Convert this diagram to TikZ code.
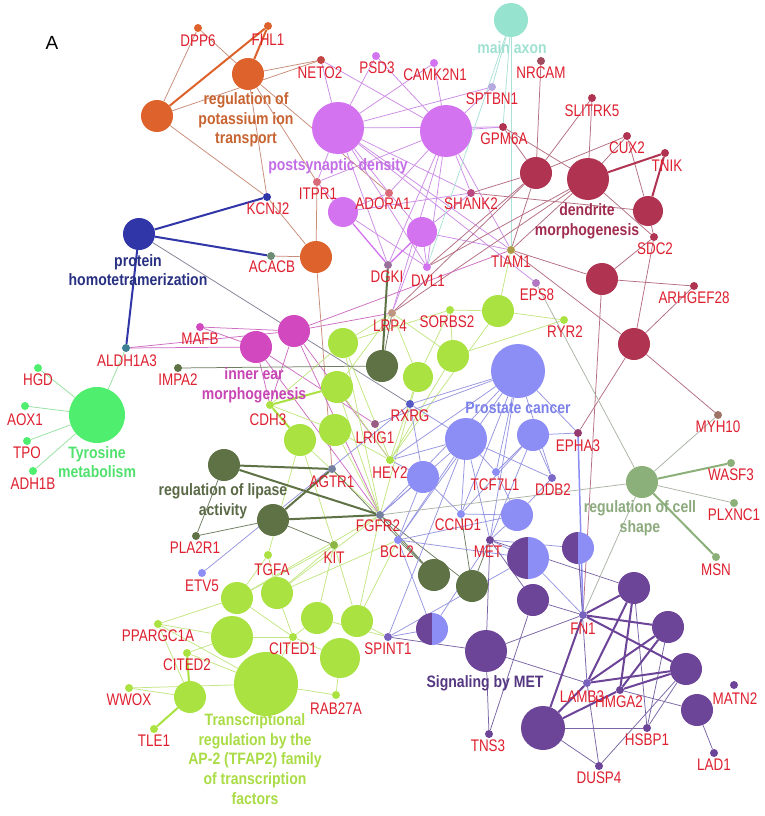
\documentclass[tikz,border=0pt]{standalone}
\usepackage{fontspec}
\setmainfont{Liberation Sans}
\newfontfamily\gf[FakeStretch=0.8]{Liberation Sans}
\newfontfamily\cf[FakeStretch=0.85]{Liberation Sans}
\pgfdeclarelayer{back}\pgfdeclarelayer{bg}\pgfsetlayers{back,bg,main}
\definecolor{cOr}{RGB}{222,98,44}
\definecolor{cPsd}{RGB}{212,115,240}
\definecolor{cAx}{RGB}{150,228,208}
\definecolor{cDen}{RGB}{176,52,82}
\definecolor{cBl}{RGB}{48,54,168}
\definecolor{cTy}{RGB}{80,238,110}
\definecolor{cEar}{RGB}{210,72,190}
\definecolor{cLi}{RGB}{170,226,66}
\definecolor{cOl}{RGB}{94,114,70}
\definecolor{cPr}{RGB}{140,142,246}
\definecolor{cMet}{RGB}{108,68,152}
\definecolor{cSh}{RGB}{140,176,122}
\definecolor{cGene}{RGB}{222,32,48}
\definecolor{lOr}{RGB}{200,100,50}
\definecolor{lPsd}{RGB}{195,110,230}
\definecolor{lAx}{RGB}{160,225,210}
\definecolor{lDen}{RGB}{160,45,80}
\definecolor{lBl}{RGB}{40,48,130}
\definecolor{lTy}{RGB}{80,225,110}
\definecolor{lEar}{RGB}{200,70,180}
\definecolor{lOl}{RGB}{90,105,70}
\definecolor{lPr}{RGB}{125,130,235}
\definecolor{lSh}{RGB}{140,170,125}
\definecolor{lMet}{RGB}{85,55,130}
\definecolor{lLi}{RGB}{170,220,70}
\definecolor{eOr}{RGB}{200,140,120}
\definecolor{ePsd}{RGB}{205,140,230}
\definecolor{eAx}{RGB}{170,225,215}
\definecolor{eDen}{RGB}{180,110,130}
\definecolor{eBl}{RGB}{130,130,150}
\definecolor{eTy}{RGB}{150,225,160}
\definecolor{eEar}{RGB}{205,110,195}
\definecolor{eLi}{RGB}{195,230,130}
\definecolor{eOl}{RGB}{110,125,95}
\definecolor{ePr}{RGB}{150,150,225}
\definecolor{eMet}{RGB}{120,100,165}
\definecolor{eSh}{RGB}{170,180,165}
\tikzset{
 bigc/.style={circle,inner sep=0pt,minimum size=#1pt},
 gdot/.style={circle,inner sep=0pt,minimum size=8pt},
 glab/.style={inner sep=0pt,text=cGene,font={\gf\fontsize{16.8}{18}\selectfont}},
 clab/.style={inner sep=0pt,align=center,font={\cf\bfseries\fontsize{16.5}{19.7}\selectfont}},
 ed/.style={line width=0.75pt},
 thk/.style={line width=2pt},
}
\begin{document}
\begin{tikzpicture}[x=1pt,y=-1pt]
\begin{pgfonlayer}{back}\fill[white] (0,0) rectangle (765,816);\end{pgfonlayer}
\useasboundingbox (0,0) rectangle (765,816);
% big term nodes
\foreach \n/\x/\y/\d/\c in {
 O1/157/116/32/cOr, O2/248/74/32/cOr, O3/316/257/32/cOr,
 P1/338/128/52/cPsd, P2/446/131/52/cPsd, P3/343/212/30/cPsd, P4/422/232/30/cPsd,
 AX/511/20/34/cAx,
 D1/536/173/32/cDen, D2/588/179/42/cDen, D3/648/211/30/cDen, D4/602/279/32/cDen, D5/634/344/32/cDen,
 B1/139/234/32/cBl, T1/97/415/56/cTy,
 M1/256/347/32/cEar, M2/294/331/32/cEar,
 L1/343/343/30/cLi, L2/337/387/32/cLi, L3/300/440/32/cLi, L4/335/430/32/cLi, L5/453/356/32/cLi,
 L6/418/377/30/cLi, L7/498/311/32/cLi, L8/237/598/32/cLi, L9/277/593/32/cLi, L10/232/637/42/cLi,
 L11/317/618/32/cLi, L12/357/621/32/cLi, L13/340/658/40/cLi, L14/266/684/64/cLi, L15/190/697/32/cLi,
 G1/224/465/32/cOl, G2/273/520/32/cOl, G3/382/366/32/cOl, G4/434/575/32/cOl, G5/472/586/32/cOl,
 C1/518/371/54/cPr, C2/466/439/42/cPr, C3/533/435/32/cPr, C4/423/477/32/cPr, C5/517/515/32/cPr,
 S1/486/651/42/cMet, S2/634/588/32/cMet, S3/668/627/32/cMet, S4/686/669/32/cMet, S5/697/710/32/cMet,
 S6/543/728/44/cMet, S7/533/600/32/cMet,
 R1/642/482/32/cSh}
 \node[bigc=\d,fill=\c] (\n) at (\x,\y) {};
% split nodes
\foreach \n/\x/\y/\r in {C6/528/558/21, C7/578/548/16, C8/432/629/16}{
 \node[bigc=2*\r] (\n) at (\x,\y) {};
 \begin{scope}
  \clip ([xshift=-30pt,yshift=30pt]\n.center) rectangle ([yshift=-30pt]\n.center);
  \fill[cMet] (\n.center) circle[radius=\r pt];
 \end{scope}
 \begin{scope}
  \clip ([yshift=30pt]\n.center) rectangle ([xshift=30pt,yshift=-30pt]\n.center);
  \fill[cPr] (\n.center) circle[radius=\r pt];
 \end{scope}
}
% gene dots
\foreach \n/\x/\y/\c in {
 dpp6/198/28/cOr, fhl1/268/26/cOr, neto2/321/60/cDen!60!cOr, psd3/376/56/cPsd, camk/434/63/cPsd,
 sptbn1/492/87/cAx!50!cPsd, gpm6a/503/127/cDen, itpr1/317/182/cOr!60!cPsd, adora1/389/193/cOr!60!cPsd,
 shank2/471/193/cDen!70!cPsd, kcnj2/267/197/cBl, acacb/271/256/cBl!50!cLi, dgki/388/265/cOl!50!cPsd,
 dvl1/427/267/cPsd, nrcam/541/61/cDen!70!gray, slitrk5/592/98/cDen, cux2/627/136/cDen, tnik/665/153/cDen,
 sdc2/654/237/cDen, arhgef28/694/286/cDen, tiam1/511/250/cLi!60!cDen, eps8/536/283/cPsd!60!gray,
 ryr2/564/320/cLi, sorbs2/450/310/cLi, lrp4/392/313/cEar!50!cLi, mafb/200/327/cEar, aldh1a3/126/348/cBl!60!cTy,
 impa2/178/368/cOl, hgd/38/368/cTy, aox1/25/406/cTy, tpo/27/441/cTy, adh1b/33/471/cTy, cdh3/270/405/cLi,
 lrig1/375/424/cOl!50!cEar, rxrg/410/404/cBl!60!cPr, hey2/390/460/cLi, agtr1/332/469/cOl!50!cPr,
 tcf7l1/496/472/cPr, ddb2/552/478/cMet!50!cPr, epha3/578/433/cMet!40!cDen, myh10/718/415/cDen!50!cSh,
 wasf3/731/463/cSh, plxnc1/734/503/cSh, msn/716/557/cSh, fgfr2/380/515/cOl!50!cPr, ccnd1/461/514/cPr,
 kit/334/545/cOl!40!cLi, bcl2/398/540/cPr, met/490/540/cMet, pla2r1/196/536/cOl, tgfa/268/555/cLi,
 etv5/202/573/cPr, fn1/583/615/cMet!60!cPr, spint1/388/637/cMet!60!cPr, cited1/293/637/cLi,
 ppargc1a/158/624/cLi, cited2/187/653/cLi, wwox/129/688/cLi, tle1/154/729/cLi, rab27a/336/695/cLi,
 lamb3/587/683/cMet!60!cPr, hmga2/620/690/cMet, matn2/734/685/cMet, tns3/489/734/cMet,
 hsbp1/647/728/cMet, lad1/714/753/cMet, dusp4/599/766/cMet}
 \node[gdot,fill=\c] (\n) at (\x,\y) {};
% edges
\begin{pgfonlayer}{bg}
\foreach \a/\b in {O1/dpp6, O2/dpp6, O1/neto2, O2/neto2, O1/kcnj2, O2/kcnj2, O2/itpr1, O2/adora1,
 O3/itpr1, O3/kcnj2, O3/agtr1, O3/acacb}
 \draw[ed,eOr] (\a) -- (\b);
\draw[ed,eBl] (B1) -- (rxrg);
\foreach \a/\b in {P1/neto2, P1/psd3, P1/camk, P1/sptbn1, P1/itpr1, P1/adora1, P1/shank2, P1/dgki, P1/dvl1,
 P1/gpm6a, P1/tiam1, P2/neto2, P2/psd3, P2/camk, P2/sptbn1, P2/gpm6a, P2/adora1, P2/shank2, P2/dgki,
 P2/dvl1, P2/itpr1, P2/tiam1, P2/lrp4, P3/itpr1, P3/adora1, P3/dvl1, P3/shank2, P4/adora1, P4/shank2,
 P4/dvl1, P4/lrp4, P4/tiam1, P1/eps8}
 \draw[ed,ePsd] (\a) -- (\b);
\foreach \a/\b in {AX/sptbn1, AX/gpm6a, AX/tiam1, AX/dvl1}
 \draw[ed,eAx] (\a) -- (\b);
\foreach \a/\b in {D1/nrcam, D1/slitrk5, D1/cux2, D1/gpm6a, D1/shank2, D1/tiam1, D1/dvl1, D1/lrp4,
 D2/slitrk5, D2/cux2, D2/tiam1, D2/sdc2, D2/gpm6a, D2/lrp4, D2/dvl1, D3/cux2, D3/sdc2, D3/shank2,
 D4/sdc2, D4/arhgef28, D4/tiam1, D4/fn1, D5/sdc2, D5/arhgef28, D5/tiam1, D5/myh10, D5/epha3}
 \draw[ed,eDen] (\a) -- (\b);
\foreach \a/\b in {T1/hgd, T1/aox1, T1/tpo, T1/adh1b, T1/aldh1a3}
 \draw[ed,eTy] (\a) -- (\b);
\foreach \a/\b in {M1/mafb, M2/mafb, M1/aldh1a3, M2/aldh1a3, M2/tiam1, M2/lrp4, M1/cdh3, M2/cdh3,
 M1/fgfr2, M2/hey2, M1/lrig1, M2/fgfr2}
 \draw[ed,eEar] (\a) -- (\b);
\foreach \a/\b in {L1/lrp4, L1/hey2, L1/fgfr2, L1/cdh3, L2/lrp4, L2/hey2, L2/fgfr2, L3/fgfr2,
 L3/kit, L4/cdh3, L4/hey2, L4/fgfr2, L5/sorbs2, L5/ryr2, L5/lrp4, L5/hey2, L6/sorbs2, L6/lrp4, L6/hey2,
 L6/fgfr2, L7/sorbs2, L7/ryr2, L7/tiam1, L7/hey2, L8/tgfa, L8/kit, L8/cited1, L8/ppargc1a, L9/tgfa,
 L9/kit, L9/cited1, L9/fgfr2, L10/ppargc1a, L10/cited2, L10/cited1, L11/kit, L11/cited1, L11/spint1,
 L12/spint1, L12/kit, L12/fgfr2, L13/cited1, L13/rab27a, L14/cited2, L14/wwox, L14/cited1, L14/rab27a,
 L14/ppargc1a, L15/wwox, L15/ppargc1a, L3/tgfa, L9/bcl2, L12/bcl2, L8/fgfr2, L1/sorbs2}
 \draw[ed,eLi] (\a) -- (\b);
\foreach \a/\b in {G1/pla2r1, G2/pla2r1, G3/impa2, G3/lrp4, G4/fgfr2, G5/fgfr2, G4/bcl2, G5/met,
 G2/kit, G4/agtr1, G5/ccnd1}
 \draw[ed,eOl] (\a) -- (\b);
\foreach \a/\b in {C1/rxrg, C1/hey2, C1/tcf7l1, C1/ccnd1, C1/bcl2, C1/met, C1/ddb2, C1/epha3, C1/fgfr2,
 C2/rxrg, C2/hey2, C2/tcf7l1, C2/ccnd1, C2/bcl2, C2/fgfr2, C2/met, C2/ddb2, C3/tcf7l1, C3/ddb2,
 C3/ccnd1, C3/epha3, C3/met, C4/hey2, C4/rxrg, C4/fgfr2, C4/ccnd1, C4/bcl2, C5/tcf7l1, C5/ccnd1,
 C5/met, C5/ddb2, C5/bcl2, C6/met, C6/fn1, C6/spint1, C6/bcl2, C7/met, C7/fn1, C8/spint1, C8/met,
 C8/bcl2, etv5/rxrg, C1/lrig1, C2/spint1}
 \draw[ed,ePr] (\a) -- (\b);
\draw[line width=1.5pt,cPr] (epha3) -- (fn1);
\foreach \a/\b in {S1/tns3, S1/fn1, S1/lamb3, S1/met, S1/spint1, S6/hsbp1, S6/dusp4, S4/dusp4,
 lamb3/dusp4, S3/hsbp1, S4/hsbp1, S5/lad1, S5/hmga2, S7/tns3, S7/fn1, S7/met, S2/met, S2/hsbp1, C7/lamb3}
 \draw[ed,eMet] (\a) -- (\b);
\foreach \a/\b in {R1/plxnc1, R1/myh10, R1/eps8, R1/fn1, R1/fgfr2}
 \draw[ed,eSh] (\a) -- (\b);
% thick edges
\foreach \a/\b in {O1/fhl1, O2/fhl1} \draw[thk,cOr] (\a) -- (\b);
\foreach \a/\b in {B1/kcnj2, B1/acacb, B1/aldh1a3} \draw[thk,cBl] (\a) -- (\b);
\foreach \a/\b in {P3/dgki, P4/dgki} \draw[line width=1.3pt,cPsd] (\a) -- (\b);
\foreach \a/\b in {D2/tnik, D3/tnik} \draw[thk,cDen] (\a) -- (\b);
\foreach \a/\b in {L15/tle1, L15/cited2, L2/cdh3, L3/cdh3} \draw[thk,cLi] (\a) -- (\b);
\foreach \a/\b in {G1/agtr1, G1/fgfr2, G2/agtr1, G2/fgfr2, G3/dgki} \draw[thk,cOl] (\a) -- (\b);
\foreach \a/\b in {fn1/S3, fn1/S4, lamb3/S3, lamb3/S4, hmga2/S3, hmga2/S4, S6/lamb3, S6/fn1, S6/hmga2,
 S2/hmga2, S2/lamb3, S2/fn1} \draw[thk,cMet] (\a) -- (\b);
\foreach \a/\b in {R1/wasf3, R1/msn} \draw[thk,cSh] (\a) -- (\b);
\end{pgfonlayer}
% gene labels
\foreach \n/\x/\y/\t in {
 dpp6/198/41/DPP6, fhl1/268/40/FHL1, neto2/320/73/NETO2, psd3/377/68/PSD3, camk/435/75/CAMK2N1,
 sptbn1/492/99/SPTBN1, gpm6a/504/139/GPM6A, itpr1/318/194/ITPR1, adora1/383/204/ADORA1,
 shank2/471/204/SHANK2, kcnj2/268/209/KCNJ2, acacb/272/267/ACACB, dgki/387/277/DGKI, dvl1/428/281/DVL1,
 nrcam/541/73/NRCAM, slitrk5/592/111/SLITRK5, cux2/627/148/CUX2, tnik/667/166/TNIK, sdc2/655/249/SDC2,
 arhgef28/694/298/ARHGEF28, tiam1/511/262/TIAM1, eps8/537/295/EPS8, ryr2/565/332/RYR2,
 sorbs2/447/322/SORBS2, lrp4/390/326/LRP4, mafb/200/339/MAFB, aldh1a3/127/361/ALDH1A3,
 impa2/178/380/IMPA2, hgd/38/380/HGD, aox1/25/420/AOX1, tpo/27/453/TPO, adh1b/33/484/ADH1B,
 cdh3/268/420/CDH3, lrig1/375/438/LRIG1, rxrg/410/416/RXRG, hey2/390/473/HEY2, agtr1/332/482/AGTR1,
 tcf7l1/495/485/TCF7L1, ddb2/553/490/DDB2, epha3/578/446/EPHA3, myh10/718/427/MYH10,
 wasf3/731/475/WASF3, plxnc1/734/515/PLXNC1, msn/716/570/MSN, fgfr2/378/526/FGFR2,
 ccnd1/458/525/CCND1, kit/334/558/KIT, bcl2/397/552/BCL2, met/488/552/MET, pla2r1/195/548/PLA2R1,
 tgfa/272/570/TGFA, etv5/202/586/ETV5, fn1/583/629/FN1, spint1/388/649/SPINT1, cited1/293/649/CITED1,
 ppargc1a/158/636/PPARGC1A, cited2/187/665/CITED2, wwox/129/700/WWOX, tle1/154/741/TLE1,
 rab27a/336/709/RAB27A, lamb3/582/697/LAMB3, hmga2/619/702/HMGA2, matn2/735/699/MATN2,
 tns3/488/746/TNS3, hsbp1/647/740/HSBP1, lad1/714/765/LAD1, dusp4/599/778/DUSP4}
 \node[glab] (t\n) at (\x,\y) {\t};
% cluster labels
\node[clab,text=lOr] (kOr) at (246,120) {regulation of\\potassium ion\\transport};
\node[clab,text=lPsd] (kPsd) at (338,166) {postsynaptic density};
\node[clab,text=lAx] (kAx) at (512,48) {main axon};
\node[clab,text=lDen] (kDen) at (587,221) {dendrite\\morphogenesis};
\node[clab,text=lBl] (kBl) at (138,270) {protein\\homotetramerization};
\node[clab,text=lTy] (kTy) at (97,462) {Tyrosine\\metabolism};
\node[clab,text=lEar] (kEar) at (254,385) {inner ear\\morphogenesis};
\node[clab,text=lOl] (kOl) at (223,501) {regulation of lipase\\activity};
\node[clab,text=lPr] (kPr) at (518,408) {Prostate cancer};
\node[clab,text=lSh] (kSh) at (640,518) {regulation of cell\\shape};
\node[clab,text=lMet] (kMet) at (485,683) {Signaling by MET};
\node[clab,text=lLi] (kLi) at (255,759) {Transcriptional\\regulation by the\\AP-2 (TFAP2) family\\of transcription\\factors};
\node[inner sep=0pt,font={\fontsize{19}{22}\selectfont}] (kA) at (52,43) {A};
\end{tikzpicture}
\end{document}
